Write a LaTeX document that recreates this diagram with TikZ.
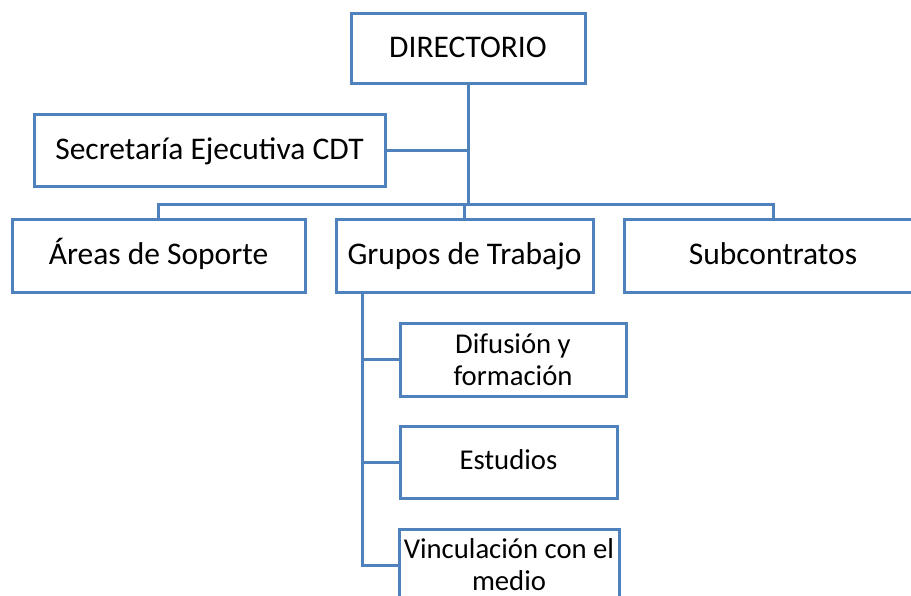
\documentclass[tikz,border=0pt]{standalone}
\usepackage{fontspec}
\setmainfont{Carlito}
\definecolor{boxblue}{RGB}{79,129,189}
\tikzset{
  orgbox/.style={draw=boxblue, line width=3pt, fill=white, rectangle, inner sep=0pt, outer sep=0pt, align=center},
  bigtxt/.style={font=\fontsize{31.5}{36}\selectfont, text height=22pt, text depth=4pt},
  smalltxt/.style={font=\fontsize{28.7}{32}\selectfont},
  smallone/.style={smalltxt, text height=20pt, text depth=6pt},
  link/.style={draw=boxblue, line width=3pt}
}
\begin{document}
\begin{tikzpicture}[x=1pt,y=-1pt]
\clip (0,0) rectangle (911,595);
\fill[white] (0,0) rectangle (911,595);
\node[orgbox, bigtxt, minimum width=234pt, minimum height=70pt] (dir) at (468,48) {DIRECTORIO};
\node[orgbox, bigtxt, minimum width=351pt, minimum height=72pt] (sec) at (209.5,150) {Secretaría Ejecutiva CDT};
\node[orgbox, bigtxt, minimum width=293pt, minimum height=73pt] (areas) at (158.5,255.5) {Áreas de Soporte};
\node[orgbox, bigtxt, minimum width=257pt, minimum height=73pt] (grupos) at (464.5,255.5) {Grupos de Trabajo};
\node[orgbox, bigtxt, minimum width=298pt, minimum height=73pt] (subc) at (773,255.5) {Subcontratos};
\node[orgbox, smalltxt, minimum width=226pt, minimum height=73pt] (dif) at (513,359.5) {Difusión y\\formación};
\node[orgbox, smallone, minimum width=217pt, minimum height=72pt] (est) at (508.5,462) {Estudios};
\node[orgbox, smalltxt, minimum width=220pt, minimum height=72pt] (vin) at (509,565) {Vinculación con el\\medio};
\coordinate (bus) at (dir.south |- 0,204);
\coordinate (gtrunk) at (362,292);
\path[link] (dir.south) -- (bus);
\path[link] (sec.east) -- (sec.east -| dir.south);
\path[link] (areas.north) -- (areas.north |- bus) -- (subc.north |- bus) -- (subc.north);
\path[link] (grupos.north) -- (grupos.north |- bus);
\path[link] (gtrunk) -- (gtrunk |- vin.west) -- (vin.west);
\path[link] (gtrunk |- dif.west) -- (dif.west);
\path[link] (gtrunk |- est.west) -- (est.west);
\end{tikzpicture}
\end{document}
